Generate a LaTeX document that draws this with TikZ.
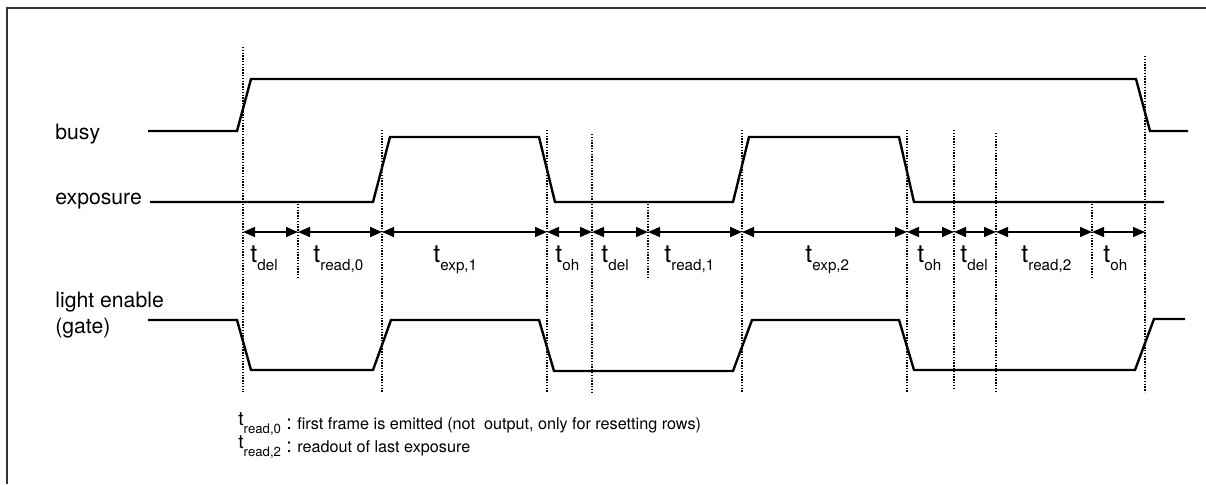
\documentclass[tikz,border=0pt]{standalone}
\usepackage{fontspec}
\setmainfont{TeX Gyre Heros}
\usetikzlibrary{arrows.meta}

\newcommand{\tlabel}[1]{t\raisebox{-4pt}{\fontsize{7.6}{8}\selectfont #1}}
\newcommand{\tnote}[1]{t\raisebox{-4pt}{\fontsize{6.6}{7}\selectfont #1}}

\tikzset{
  signal/.style={line width=1.2pt, line join=miter},
  marker/.style={line width=0.8pt, dash pattern=on 0.7pt off 0.7pt},
  dimarrow/.style={line width=0.7pt, {Triangle[length=6pt,width=5pt]}-{Triangle[length=6pt,width=5pt]}},
  signame/.style={anchor=base west, inner sep=0pt, font=\fontsize{10.6}{12.6}\selectfont},
  timelab/.style={anchor=base west, inner sep=0pt, font=\fontsize{12.5}{14}\selectfont},
  notetext/.style={anchor=base west, inner sep=0pt, font=\fontsize{9.6}{10}\selectfont},
}

\begin{document}
\begin{tikzpicture}[x=0.5pt,y=-0.5pt]
    \useasboundingbox (0,0) rectangle (1206,484);
    % frame
    \draw[line width=1pt,black!80] (7,484) -- (7,8) -- (1206,8);

    % signal names
    \node[signame] (busy) at (55,139) {busy};
    \node[signame] (expo) at (55,204) {exposure};
    \node[signame,anchor=north west,align=left] (gate) at (55,292) {light enable\\(gate)};

    % signals
    \draw[signal] (148,131) -- (237,131) -- (251,79) -- (1136,79) -- (1150,131) -- (1188,131);
    \draw[signal] (150,202) -- (373,202) -- (390,137) -- (539,137) -- (555,202) -- (733,202)
        -- (749,137) -- (899,137) -- (914,202) -- (1164,202);
    \draw[signal] (148,320) -- (237,320) -- (251,370) -- (373,370) -- (391,320) -- (539,320)
        -- (554,371) -- (733,371) -- (752,320) -- (899,320) -- (914,370) -- (1135,370)
        -- (1154,319) -- (1185,319);

    % time marks
    \foreach \n/\x/\ya/\yb in {0/243/47/392, 1/298/204/278, 2/382/130/392, 3/547/130/392,
        4/592/134/392, 5/648/204/278, 6/742/130/392, 7/907/130/392, 8/954/130/390,
        9/996/133/392, 10/1092/204/278, 11/1145/56/392}{
        \coordinate (m\n) at (\x,232);
        \draw[marker] (\x,\ya) -- (\x,\yb);
    }
    \foreach \a/\b in {0/1,1/2,2/3,3/4,4/5,5/6,6/7,7/8,8/9,9/10,10/11}
        \draw[dimarrow] (m\a) -- (m\b);

    % interval labels
    \node[timelab] (del1)  at (250,262)  {\tlabel{del}};
    \node[timelab] (read0) at (313,262)  {\tlabel{read,0}};
    \node[timelab] (exp1)  at (433,262)  {\tlabel{exp,1}};
    \node[timelab] (oh1)   at (555,262)  {\tlabel{oh}};
    \node[timelab] (del2)  at (601,262)  {\tlabel{del}};
    \node[timelab] (read1) at (664,262)  {\tlabel{read,1}};
    \node[timelab] (exp2)  at (805,262)  {\tlabel{exp,2}};
    \node[timelab] (oh2)   at (917,262)  {\tlabel{oh}};
    \node[timelab] (del3)  at (960,262)  {\tlabel{del}};
    \node[timelab] (read2) at (1021,262) {\tlabel{read,2}};
    \node[timelab] (oh3)   at (1103,262) {\tlabel{oh}};

    % notes
    \node[notetext] (note1) at (238,425) {\tnote{read,0}\raisebox{-2pt}{\ {\fontsize{10}{10}\selectfont:}\ \fontsize{8.1}{9}\selectfont first frame is emitted (not\ \ output, only for resetting rows)}};
    \node[notetext] (note2) at (238,448) {\tnote{read,2}\raisebox{-2pt}{\ {\fontsize{10}{10}\selectfont:}\ \fontsize{8.1}{9}\selectfont readout of last exposure}};
\end{tikzpicture}
\end{document}
